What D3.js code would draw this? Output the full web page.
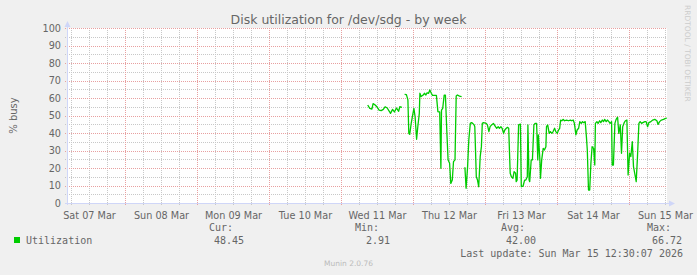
<!DOCTYPE html>
<meta charset="utf-8">
<style>
  body { margin: 0; background-color: #F0F0F0; }
  svg { display: block; }
  text { fill: #666666; font-family: "DejaVu Sans", sans-serif; }
  .mono { font-family: "DejaVu Sans Mono", monospace; font-size: 10px; }
  .grid .domain { display: none; }
  .minor line { stroke: #c8c8c8; stroke-dasharray: 1,1; shape-rendering: crispEdges; }
  .major line { stroke: #e8a0a0; stroke-dasharray: 1,1; shape-rendering: crispEdges; }
</style>
<body>
<script src="https://d3js.org/d3.v7.min.js"></script>
<script>
// hours since Wed 11 Mar 2026 00:00, and % busy (null = gap)
var hrs = [8.9, 9.6, 10.3, 10.7, 11.4, 12.1, 12.7, 13.4, 14.1, 14.7, 15.4, 16.1, 16.5, 17.2, 17.8, 18.5, 19.2, 19.6, 20.3, 20.8,
  21.2, 21.8, 22.3, 22.6, 22.9, 23.4, 23.8, 24.3, 24.7, 25.2, 25.6, 26.1, 26.3, 26.7, 27.4, 27.8, 28.3, 28.7, 29.2, 29.6,
  30.1, 30.5, 31.2, 31.8, 32.3, 32.9, 33.3, 33.5, 33.9, 34.4, 34.8, 35.3, 35.7, 36.2, 36.6, 37.1, 37.5, 38.0, 38.4, 38.8,
  39.5, 40.2, 40.7,
  41.3, 41.7, 42.2, 42.6, 43.1, 43.5, 43.9, 44.4, 44.6, 45.1, 45.5, 45.9, 46.4, 46.8, 47.1, 47.5, 48.4, 48.8, 49.3, 49.7,
  50.2, 50.8, 51.5, 51.9, 52.4, 52.8, 53.3, 53.7, 54.2, 54.6, 55.1, 55.5, 55.9, 56.4, 56.8, 57.3, 57.7, 58.2, 58.4, 58.7,
  59.2, 59.8, 60.1, 60.7, 61.2, 61.6, 62.1, 62.3, 62.7, 62.9, 63.4, 63.8, 64.3, 64.7, 65.2, 65.6, 65.8, 66.3, 66.5, 66.9,
  67.4, 67.8, 68.3, 68.5, 68.9, 69.4, 69.8, 70.3, 70.7, 71.2, 71.6, 72.1, 72.5, 72.9, 73.2, 73.6, 74.1, 74.5, 75.2, 75.8,
  76.5, 76.9, 77.4, 77.8, 78.3, 78.7, 79.2, 79.6, 80.1, 80.5, 80.9, 81.4, 81.8, 82.1, 82.5, 82.9, 83.3, 83.7, 84.2, 84.6,
  84.8, 85.3, 85.7, 86.2, 86.6, 87.1, 87.5, 87.9, 88.4, 88.8, 89.3, 89.7, 90.2, 90.4, 90.8, 91.3, 91.7, 92.2, 92.6, 93.1,
  93.5, 93.9, 94.4, 94.8, 95.3, 95.7, 96.2, 96.6, 97.1, 97.5, 97.9, 98.4, 98.8, 99.3, 99.7, 100.2, 100.6, 101.3, 101.7, 102.2,
  102.6, 103.3, 103.9, 104.6, 105.3, 105.7, 106.2, 106.8, 107.5, 108.2, 108.6];
var util = [56.0, 54.1, 53.7, 56.8, 56.0, 54.7, 53.1, 52.8, 53.5, 55.0, 54.3, 52.4, 51.2, 53.5, 52.0, 54.3, 52.4, 55.0, 54.7, null,
  62.1, 61.9, 58.9, 39.8, 39.2, 45.5, 49.3, 54.1, 49.3, 36.4, 43.6, 51.2, 62.7, 60.8, 61.7, 62.7, 61.7, 63.0, 62.7, 64.6,
  62.7, 61.5, 61.5, 61.5, 52.2, 52.0, 19.8, 53.1, 54.1, 61.7, 61.7, 39.8, 24.6, 22.7, 11.2, 13.1, 23.6, 24.6, 61.1, 61.7,
  61.1, 60.8, null,
  20.4, 8.4, 20.8, 36.0, 45.5, 45.9, 45.5, 44.6, 43.6, 15.0, 13.1, 9.3, 26.5, 32.2, 45.5, 45.9, 45.5, 44.6, 40.8, 43.6,
  44.6, 45.5, 43.6, 42.7, 43.6, 42.7, 43.6, 42.7, 39.8, 41.7, 42.7, 43.2, 42.7, 17.0, 15.0, 14.1, 17.9, 17.0, 12.2, 13.1,
  44.6, 45.1, 9.3, 9.7, 13.1, 13.1, 15.0, 44.6, 13.1, 12.2, 24.6, 24.6, 44.6, 45.5, 45.5, 24.6, 38.9, 24.6, 14.1, 24.6,
  31.2, 30.3, 32.2, 43.6, 44.6, 39.8, 40.8, 39.8, 40.8, 42.7, 40.8, 39.8, 41.7, 42.7, 47.4, 47.0, 47.8, 47.0, 47.4, 47.0,
  47.4, 47.0, 47.4, 45.5, 38.9, 41.7, 42.7, 46.5, 45.5, 46.5, 45.9, 46.5, 37.9, 30.3, 7.4, 7.4, 22.7, 32.2, 31.2, 21.7,
  45.5, 46.5, 45.5, 47.0, 45.9, 47.4, 46.5, 47.8, 46.5, 47.4, 46.5, 45.5, 46.5, 21.7, 21.7, 45.5, 47.8, 49.0, 39.8, 44.6,
  28.4, 43.6, 45.9, 47.0, 47.4, 16.0, 28.4, 26.5, 35.0, 20.8, 17.0, 12.2, 25.5, 45.5, 46.5, 45.5, 45.9, 46.5, 46.5, 43.6,
  45.9, 46.5, 47.4, 47.8, 47.0, 44.9, 46.5, 47.4, 47.8, 48.4, 48.45];

var yTicks = [0, 10, 20, 30, 40, 50, 60, 70, 80, 90, 100];
var yMinor = [5, 15, 25, 35, 45, 55, 65, 75, 85, 95];
var legendHeads = ["Cur:", "Min:", "Avg:", "Max:"];
var legendVals = ["48.45", "2.91", "42.00", "66.72"];

var width = 697, height = 275;
var margin = {top: 28, right: 30, bottom: 72, left: 67};
var plotW = width - margin.left - margin.right,   // 600
    plotH = height - margin.top - margin.bottom;  // 175

var base = Date.UTC(2026, 2, 11);
var end = new Date(Date.UTC(2026, 2, 15, 12, 40));
var start = new Date(+end - 200 * 3600e3);

var x = d3.scaleUtc().domain([start, end]).range([margin.left, margin.left + plotW]);
var y = d3.scaleLinear().domain([0, 100]).range([margin.top + plotH, margin.top]);

var svg = d3.select("body").append("svg")
    .attr("width", width)
    .attr("height", height);

svg.append("rect")
    .attr("x", margin.left).attr("y", margin.top)
    .attr("width", plotW).attr("height", plotH)
    .style("fill", "#ffffff");

// grid (extends 2px past the axes as ticks)
var sixH = d3.utcHour.every(6).range(start, end).filter(function(d) { return d.getUTCHours() != 0; });
var days = d3.utcDay.range(start, end);

svg.append("g").attr("class", "grid minor")
    .attr("transform", "translate(0," + (margin.top + plotH + 2) + ")")
    .call(d3.axisBottom(x).tickValues(sixH).tickSize(-(plotH + 2)).tickFormat(""));
svg.append("g").attr("class", "grid minor")
    .attr("transform", "translate(" + (margin.left - 2) + ",0)")
    .call(d3.axisLeft(y).tickValues(yMinor).tickSize(-(plotW + 2)).tickFormat(""));
svg.append("g").attr("class", "grid major")
    .attr("transform", "translate(0," + (margin.top + plotH + 2) + ")")
    .call(d3.axisBottom(x).tickValues(days).tickSize(-(plotH + 2)).tickFormat(""));
svg.append("g").attr("class", "grid major")
    .attr("transform", "translate(" + (margin.left - 2) + ",0)")
    .call(d3.axisLeft(y).tickValues(yTicks).tickSize(-(plotW + 2)).tickFormat(""));

// tick labels
var fmt = d3.utcFormat("%a %d %b");
var noons = days.map(function(d) { return d3.utcHour.offset(d, 12); });
noons.unshift(d3.utcHour.offset(d3.utcDay.floor(start), 12));

var xa = svg.append("g")
    .attr("transform", "translate(0," + (margin.top + plotH) + ")")
    .call(d3.axisBottom(x).tickValues(noons).tickSize(0).tickPadding(9).tickFormat(fmt));
xa.select(".domain").remove();
xa.selectAll("text").style("font-family", "DejaVu Sans").style("font-size", "9.7px").style("fill", "#666");

var ya = svg.append("g")
    .attr("transform", "translate(" + (margin.left - 6) + ",0)")
    .call(d3.axisLeft(y).tickValues(yTicks).tickSize(0).tickPadding(0));
ya.select(".domain").remove();
ya.selectAll("text").style("font-family", "DejaVu Sans").style("font-size", "9.7px").style("fill", "#666");

// axes with arrows
var axisCol = "#CFD6F8";
svg.append("line")
    .attr("x1", margin.left + 0.5).attr("x2", margin.left + 0.5)
    .attr("y1", y(0) + 2).attr("y2", margin.top - 4)
    .style("stroke", axisCol);
svg.append("line")
    .attr("x1", margin.left - 2).attr("x2", margin.left + plotW + 4)
    .attr("y1", y(0) + 0.5).attr("y2", y(0) + 0.5)
    .style("stroke", axisCol);
svg.append("path")
    .attr("d", "M" + (margin.left - 2.5) + "," + (margin.top - 1) + "L" + (margin.left + 3.5) + "," + (margin.top - 1) +
      "L" + (margin.left + 0.5) + "," + (margin.top - 7) + "Z")
    .style("fill", axisCol);
svg.append("path")
    .attr("d", "M" + (margin.left + plotW + 2) + "," + (y(0) - 2.5) + "L" + (margin.left + plotW + 2) + "," + (y(0) + 3.5) +
      "L" + (margin.left + plotW + 8) + "," + (y(0) + 0.5) + "Z")
    .style("fill", axisCol);

// data line
var data = hrs.map(function(h, i) { return {t: new Date(base + h * 3600e3), v: util[i]}; });
var line = d3.line()
    .defined(function(d) { return d.v !== null; })
    .x(function(d) { return x(d.t); })
    .y(function(d) { return y(d.v); });

svg.append("path")
    .datum(data)
    .attr("d", line)
    .style("fill", "none")
    .style("stroke", "#00CC00")
    .style("stroke-width", 1.3)
    .style("stroke-linejoin", "round");

// titles
svg.append("text")
    .attr("x", width / 2).attr("y", 24)
    .attr("text-anchor", "middle")
    .style("font-size", "12.5px")
    .text("Disk utilization for /dev/sdg - by week");

svg.append("text")
    .attr("transform", "translate(17," + (margin.top + plotH / 2) + ") rotate(-90)")
    .attr("text-anchor", "middle")
    .style("font-size", "10px")
    .text("% busy");

svg.append("text")
    .attr("transform", "translate(685,5) rotate(90)")
    .style("font-size", "7.5px")
    .style("fill", "#cccccc")
    .text("RRDTOOL / TOBI OETIKER");

// legend
svg.append("rect")
    .attr("x", 14).attr("y", 237).attr("width", 6).attr("height", 6)
    .style("fill", "#00CC00");
svg.append("text").attr("class", "mono")
    .attr("x", 26).attr("y", 243.5)
    .text("Utilization");

legendHeads.forEach(function(h, i) {
  svg.append("text").attr("class", "mono")
      .attr("x", 209 + i * 146).attr("y", 230.5)
      .text(h);
  svg.append("text").attr("class", "mono")
      .attr("x", 244 + i * 146).attr("y", 243.5)
      .attr("text-anchor", "end")
      .text(legendVals[i]);
});

svg.append("text").attr("class", "mono")
    .attr("x", 683).attr("y", 256.5)
    .attr("text-anchor", "end")
    .text("Last update: Sun Mar 15 12:30:07 2026");

svg.append("text")
    .attr("x", width / 2).attr("y", 266)
    .attr("text-anchor", "middle")
    .style("font-size", "7.5px")
    .style("fill", "#bbbbbb")
    .text("Munin 2.0.76");
</script>
</body>
</html>
